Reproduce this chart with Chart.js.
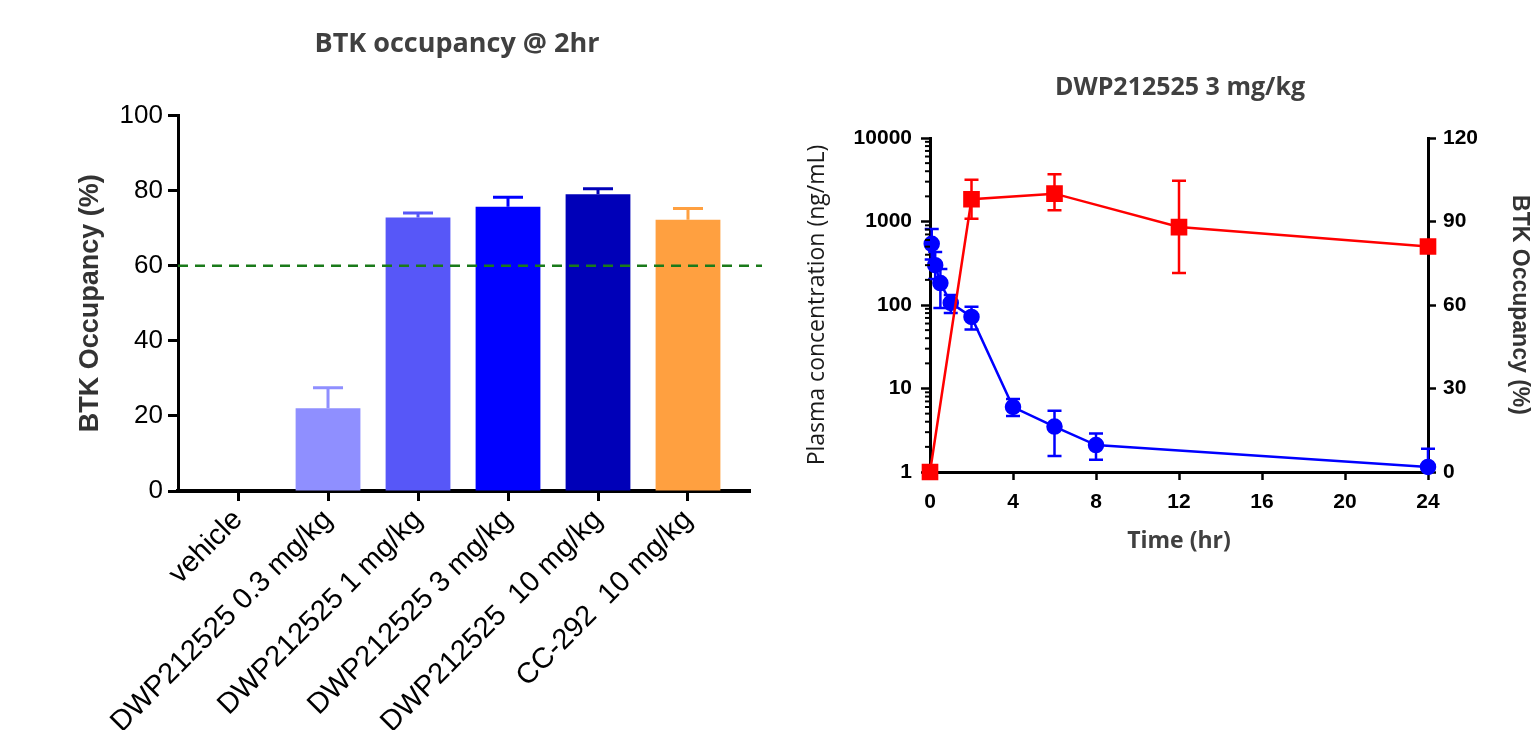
<!DOCTYPE html>
<html>
<head>
<meta charset="utf-8">
<script src="https://cdn.jsdelivr.net/npm/chart.js@4.4.0/dist/chart.umd.min.js"></script>
<style>
  html, body { margin: 0; padding: 0; background: #fff; overflow: hidden; width: 1539px; height: 730px; }
  #barWrap { position: absolute; left: 0; top: 0; width: 914px; height: 730px; }
  #pkWrap { position: absolute; left: 800px; top: 0; width: 760px; height: 730px; }
</style>
</head>
<body>
<div id="barWrap"><canvas id="barChart"></canvas></div>
<div id="pkWrap"><canvas id="pkChart"></canvas></div>
<script>
// left panel: BTK occupancy @ 2hr
const groups = ['vehicle', 'DWP212525 0.3 mg/kg', 'DWP212525 1 mg/kg', 'DWP212525 3 mg/kg', 'DWP212525  10 mg/kg', 'CC-292  10 mg/kg'];
const occupancy = [0, 22, 72.8, 75.7, 79, 72.2];
const occupancyErr = [null, 5.5, 1.2, 2.5, 1.5, 3.0];
const occTicks = [0, 20, 40, 60, 80, 100];
const threshold = 60;
const barColors = ['#9a9aff', '#8f8fff', '#5757f8', '#0000ff', '#0000b8', '#ffa040'];

// right panel: DWP212525 3 mg/kg, plasma level vs occupancy
const pkTime = [0.083, 0.25, 0.5, 1, 2, 4, 6, 8, 24];
const pkConc = [540, 300, 183, 106, 72, 6, 3.5, 2.1, 1.15];
const pkConcLow = [350, 205, 92, 80, 51, 4.7, 1.55, 1.4, null];
const pkConcHigh = [813, 430, 270, 132, 95, 7.5, 5.4, 2.9, 1.9];
const roTime = [0, 2, 6, 12, 24];
const roOcc = [0, 98, 100, 88, 81];
const roLow = [null, 91, 94, 71.5, null];
const roHigh = [null, 105, 107, 104.6, null];
const timeTicks = [0, 4, 8, 12, 16, 20, 24];
const concTicks = [1, 10, 100, 1000, 10000];
const roTicks = [0, 30, 60, 90, 120];

const arial = "'Liberation Sans', Arial, sans-serif";
const open = "'Open Sans', sans-serif";

const barErrors = {
  id: 'barErrors',
  afterDatasetsDraw(chart) {
    const ctx = chart.ctx;
    const y = chart.scales.y;
    const meta = chart.getDatasetMeta(0);
    ctx.save();
    ctx.lineWidth = 3;
    meta.data.forEach((bar, i) => {
      if (occupancyErr[i] == null) return;
      const top = y.getPixelForValue(occupancy[i] + occupancyErr[i]);
      ctx.strokeStyle = barColors[i];
      ctx.beginPath();
      ctx.moveTo(bar.x, bar.y);
      ctx.lineTo(bar.x, top);
      ctx.moveTo(bar.x - 15, top);
      ctx.lineTo(bar.x + 15, top);
      ctx.stroke();
    });
    const ty = y.getPixelForValue(threshold);
    ctx.strokeStyle = '#1a7a1a';
    ctx.lineWidth = 2.5;
    ctx.setLineDash([10, 7]);
    ctx.beginPath();
    ctx.moveTo(chart.chartArea.left, ty);
    ctx.lineTo(chart.chartArea.right + 12, ty);
    ctx.stroke();
    ctx.restore();
  }
};

new Chart(document.getElementById('barChart'), {
  type: 'bar',
  data: {
    datasets: [{
      data: occupancy.map((v, i) => ({x: i, y: v})),
      backgroundColor: barColors,
      barPercentage: 0.72,
      categoryPercentage: 1
    }]
  },
  options: {
    responsive: true,
    maintainAspectRatio: false,
    animation: false,
    plugins: {
      legend: {display: false},
      tooltip: {enabled: false},
      title: {
        display: true,
        text: 'BTK occupancy @ 2hr',
        color: '#404040',
        font: {family: open, size: 27, weight: 'bold'},
        padding: {top: 28, bottom: 55}
      }
    },
    scales: {
      x: {
        type: 'linear',
        min: -0.667,
        max: 5.689,
        offset: false,
        afterBuildTicks: s => { s.ticks = groups.map((g, i) => ({value: i})); },
        afterFit: s => { s.height = 239; },
        grid: {offset: false, drawOnChartArea: false, tickLength: 10, tickWidth: 3, tickColor: '#000'},
        border: {color: '#000', width: 4},
        ticks: {
          callback: v => groups[v],
          minRotation: 45,
          maxRotation: 45,
          autoSkip: false,
          color: '#000',
          font: {family: arial, size: 29},
          padding: 2
        }
      },
      y: {
        min: 0,
        max: 100,
        afterBuildTicks: s => { s.ticks = occTicks.map(v => ({value: v})); },
        afterFit: s => { s.width = 178; },
        grid: {drawOnChartArea: false, tickLength: 10, tickWidth: 3, tickColor: '#000'},
        border: {color: '#000', width: 3},
        ticks: {color: '#000', font: {family: arial, size: 26}, padding: 5},
        title: {
          display: true,
          text: 'BTK Occupancy (%)',
          color: '#333',
          font: {family: arial, size: 27, weight: 'bold'},
          padding: {top: 74}
        }
      },
      pad: {
        position: 'right',
        grid: {display: false},
        border: {display: false},
        ticks: {display: false},
        afterFit: s => { s.width = 164; }
      }
    }
  },
  plugins: [barErrors]
});

const pkExtras = {
  id: 'pkExtras',
  beforeDatasetsDraw(chart) {
    const ctx = chart.ctx;
    const x = chart.scales.x;
    const bars = (times, means, lows, highs, axis, color) => {
      ctx.strokeStyle = color;
      times.forEach((t, i) => {
        const px = x.getPixelForValue(t);
        const pm = axis.getPixelForValue(means[i]);
        [lows[i], highs[i]].forEach(v => {
          if (v == null) return;
          const py = axis.getPixelForValue(v);
          ctx.beginPath();
          ctx.moveTo(px, pm);
          ctx.lineTo(px, py);
          ctx.moveTo(px - 7, py);
          ctx.lineTo(px + 7, py);
          ctx.stroke();
        });
      });
    };
    ctx.save();
    ctx.lineWidth = 2.5;
    bars(pkTime, pkConc, pkConcLow, pkConcHigh, chart.scales.y, '#0000ff');
    bars(roTime, roOcc, roLow, roHigh, chart.scales.y2, '#ff0000');
    ctx.restore();
  },
  afterDraw(chart) {
    // minor ticks of the log axis
    const ctx = chart.ctx;
    const y = chart.scales.y;
    ctx.save();
    ctx.strokeStyle = '#000';
    ctx.lineWidth = 2;
    for (let d = 1; d < 10000; d *= 10) {
      for (let m = 2; m < 10; m++) {
        const py = y.getPixelForValue(d * m);
        ctx.beginPath();
        ctx.moveTo(y.right, py);
        ctx.lineTo(y.right - 5, py);
        ctx.stroke();
      }
    }
    ctx.restore();
  }
};

new Chart(document.getElementById('pkChart'), {
  type: 'line',
  data: {
    datasets: [{
      label: 'BTK occupancy',
      data: roTime.map((t, i) => ({x: t, y: roOcc[i]})),
      yAxisID: 'y2',
      borderColor: '#ff0000',
      backgroundColor: '#ff0000',
      borderWidth: 2.5,
      pointStyle: 'rect',
      pointRadius: 10,
      clip: false
    }, {
      label: 'Plasma concentration',
      data: pkTime.map((t, i) => ({x: t, y: pkConc[i]})),
      yAxisID: 'y',
      borderColor: '#0000ff',
      backgroundColor: '#0000ff',
      borderWidth: 2.5,
      pointStyle: 'circle',
      pointRadius: 7,
      clip: false
    }]
  },
  options: {
    responsive: true,
    maintainAspectRatio: false,
    animation: false,
    plugins: {
      legend: {display: false},
      tooltip: {enabled: false},
      title: {
        display: true,
        text: 'DWP212525 3 mg/kg',
        color: '#404040',
        font: {family: open, size: 25, weight: 'bold'},
        padding: {top: 73, bottom: 35}
      }
    },
    scales: {
      x: {
        type: 'linear',
        min: 0,
        max: 24,
        afterBuildTicks: s => { s.ticks = timeTicks.map(v => ({value: v})); },
        afterFit: s => { s.height = 258; },
        grid: {drawOnChartArea: false, tickLength: 8, tickWidth: 2.5, tickColor: '#000'},
        border: {color: '#000', width: 3},
        ticks: {color: '#000', font: {family: arial, size: 21, weight: 'bold'}, padding: 10, maxRotation: 0},
        title: {
          display: true,
          text: 'Time (hr)',
          color: '#404040',
          font: {family: open, size: 23, weight: 'bold'},
          padding: {bottom: 175}
        }
      },
      y: {
        type: 'logarithmic',
        position: 'left',
        min: 1,
        max: 10000,
        afterBuildTicks: s => { s.ticks = concTicks.map(v => ({value: v})); },
        afterFit: s => { s.width = 130; },
        grid: {drawOnChartArea: false, tickLength: 9, tickWidth: 2.5, tickColor: '#000'},
        border: {color: '#000', width: 3},
        ticks: {callback: v => String(v), color: '#000', font: {family: arial, size: 21, weight: 'bold'}, padding: 9},
        title: {
          display: true,
          text: 'Plasma concentration (ng/mL)',
          color: '#1a1a1a',
          font: {family: open, size: 23},
          padding: {top: 4}
        }
      },
      y2: {
        position: 'right',
        min: 0,
        max: 120,
        afterBuildTicks: s => { s.ticks = roTicks.map(v => ({value: v})); },
        afterFit: s => { s.width = 132; },
        grid: {drawOnChartArea: false, tickLength: 8, tickWidth: 2.5, tickColor: '#000'},
        border: {color: '#000', width: 3},
        ticks: {color: '#000', font: {family: arial, size: 21, weight: 'bold'}, padding: 7},
        title: {
          display: true,
          text: 'BTK Occupancy (%)',
          color: '#333',
          font: {family: arial, size: 23, weight: 'bold'},
          padding: {top: 27}
        }
      }
    }
  },
  plugins: [pkExtras]
});
</script>
</body>
</html>
